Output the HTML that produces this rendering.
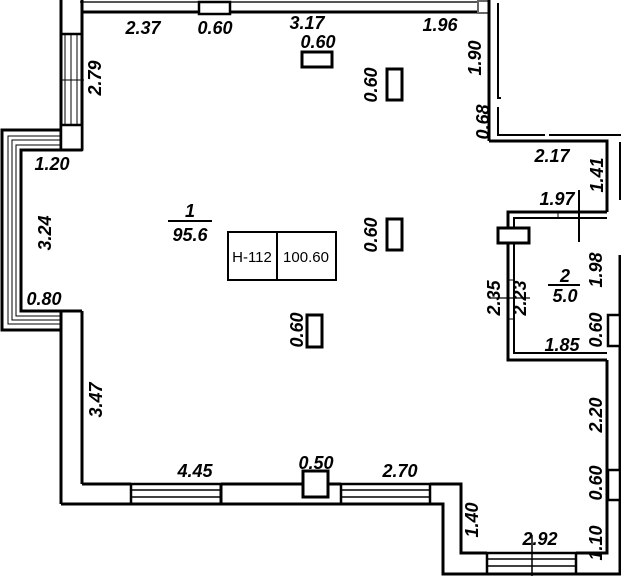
<!DOCTYPE html>
<html><head><meta charset="utf-8"><style>
html,body{margin:0;padding:0;background:#fff}
svg{display:block}
text{font-family:"Liberation Sans",sans-serif;font-style:italic;font-weight:bold;font-size:18px;fill:#000}
.t{font-style:normal;font-weight:normal;font-size:15px}
</style></head><body>
<svg width="621" height="576" viewBox="0 0 621 576" xmlns="http://www.w3.org/2000/svg">
<g fill="none" stroke="#000">
<line x1="80" y1="2" x2="490" y2="2" stroke-width="2" stroke="#555"/>
<line x1="82" y1="12" x2="490" y2="12" stroke-width="3"/>
<rect x="199" y="2" width="31" height="12" fill="#fff" stroke-width="2.5"/>
<rect x="478" y="1" width="11" height="12" fill="#fff" stroke-width="2" stroke="#666"/>
<line x1="61" y1="0" x2="61" y2="150" stroke-width="3"/>
<line x1="82" y1="0" x2="82" y2="150" stroke-width="3"/>
<line x1="61" y1="34" x2="82" y2="34" stroke-width="2.5"/>
<line x1="65" y1="34" x2="65" y2="125" stroke-width="1"/>
<line x1="71" y1="34" x2="71" y2="125" stroke-width="1"/>
<line x1="77" y1="34" x2="77" y2="125" stroke-width="1"/>
<line x1="60" y1="80" x2="84" y2="80" stroke-width="1"/>
<rect x="61" y="125" width="21" height="25" fill="#fff" stroke-width="2.5"/>
<path d="M61 130 H2 V330 H61" stroke-width="3"/>
<path d="M61 136 H8 V324 H61" stroke-width="1"/>
<path d="M61 140 H12 V320 H61" stroke-width="1"/>
<path d="M61 145 H16 V316 H61" stroke-width="1"/>
<path d="M82 150 H21 V311 H82" stroke-width="3"/>
<line x1="61" y1="311" x2="61" y2="504" stroke-width="3"/>
<line x1="82" y1="311" x2="82" y2="484" stroke-width="3"/>
<path d="M82 484 H131" stroke-width="3"/>
<path d="M61 504 H443 V574 H621" stroke-width="3"/>
<path d="M221 484 H303 M328 484 H341" stroke-width="3"/>
<path d="M430 484 H461 V553 H487" stroke-width="3"/>
<path d="M576 553 H607 V360" stroke-width="3"/>
<line x1="620" y1="255" x2="620" y2="574" stroke-width="3"/>
<rect x="131" y="484" width="90" height="20" stroke-width="2.5"/>
<line x1="131" y1="490" x2="221" y2="490" stroke-width="1.5"/>
<line x1="131" y1="497" x2="221" y2="497" stroke-width="1.5"/>
<line x1="221" y1="484" x2="221" y2="504" stroke-width="3"/>
<rect x="341" y="484" width="89" height="20" stroke-width="2.5"/>
<line x1="341" y1="490" x2="430" y2="490" stroke-width="1.5"/>
<line x1="341" y1="497" x2="430" y2="497" stroke-width="1.5"/>
<rect x="303" y="471" width="25" height="26" fill="#fff" stroke-width="3"/>
<rect x="487" y="553" width="89" height="21" stroke-width="2.5"/>
<line x1="487" y1="559" x2="576" y2="559" stroke-width="1.5"/>
<line x1="487" y1="566" x2="576" y2="566" stroke-width="1.5"/>
<line x1="532" y1="535" x2="532" y2="576" stroke-width="1.5"/>
<line x1="489" y1="0" x2="489" y2="141" stroke-width="3"/>
<path d="M498 3 V98 H501" stroke-width="2"/>
<path d="M498 107 V135 H545 M549 135 H621" stroke-width="2"/>
<path d="M489 141 H607 V212" stroke-width="3"/>
<line x1="620" y1="142" x2="620" y2="200" stroke-width="2"/>
<path d="M607 212 H508 V360 H607" stroke-width="3"/>
<path d="M607 218 H514 V353 H607" stroke-width="2"/>
<line x1="508" y1="280" x2="514" y2="280" stroke-width="1"/>
<line x1="508" y1="319" x2="514" y2="319" stroke-width="1"/>
<line x1="490" y1="298" x2="530" y2="298" stroke-width="1.2"/>
<line x1="558" y1="212" x2="558" y2="218" stroke-width="1"/>
<rect x="498" y="228" width="31" height="15" fill="#fff" stroke-width="3"/>
<line x1="579" y1="190" x2="579" y2="242" stroke-width="2"/>
<rect x="608" y="315" width="12" height="31" fill="#fff" stroke-width="2.5"/>
<rect x="608" y="470" width="12" height="30" fill="#fff" stroke-width="2.5"/>
<rect x="302" y="52" width="30" height="15" stroke-width="3"/>
<rect x="387" y="69" width="15" height="31" stroke-width="3"/>
<rect x="387" y="219" width="15" height="31" stroke-width="3"/>
<rect x="307" y="315" width="15" height="32" stroke-width="3"/>
<rect x="228" y="232" width="108" height="48" stroke-width="2"/>
<line x1="277" y1="232" x2="277" y2="280" stroke-width="2"/>
<line x1="168" y1="221" x2="212" y2="221" stroke-width="2"/>
<line x1="548" y1="285" x2="580" y2="285" stroke-width="2"/>
</g>
<text class="t" x="252" y="262" text-anchor="middle">Н-112</text>
<text class="t" x="306" y="262" text-anchor="middle">100.60</text>
<g text-anchor="middle">
<text x="190" y="217">1</text>
<text x="190" y="241">95.6</text>
<text x="565" y="282">2</text>
<text x="565" y="302">5.0</text>
<text x="143" y="34">2.37</text>
<text x="215" y="34">0.60</text>
<text x="307" y="29">3.17</text>
<text x="318" y="48">0.60</text>
<text x="440" y="31">1.96</text>
<text x="52" y="170">1.20</text>
<text x="44" y="305">0.80</text>
<text x="195" y="477">4.45</text>
<text x="316" y="469">0.50</text>
<text x="400" y="477">2.70</text>
<text x="540" y="545">2.92</text>
<text x="562" y="351">1.85</text>
<text x="557" y="205">1.97</text>
<text x="552" y="162">2.17</text>
<text transform="translate(101,78) rotate(-90)">2.79</text>
<text transform="translate(51,233) rotate(-90)">3.24</text>
<text transform="translate(102,400) rotate(-90)">3.47</text>
<text transform="translate(478,520) rotate(-90)">1.40</text>
<text transform="translate(602,543) rotate(-90)">1.10</text>
<text transform="translate(602,483) rotate(-90)">0.60</text>
<text transform="translate(602,415) rotate(-90)">2.20</text>
<text transform="translate(602,330) rotate(-90)">0.60</text>
<text transform="translate(602,270) rotate(-90)">1.98</text>
<text transform="translate(526,298) rotate(-90)">2.23</text>
<text transform="translate(500,298) rotate(-90)">2.35</text>
<text transform="translate(603,175) rotate(-90)">1.41</text>
<text transform="translate(489,122) rotate(-90)">0.68</text>
<text transform="translate(481,58) rotate(-90)">1.90</text>
<text transform="translate(377,85) rotate(-90)">0.60</text>
<text transform="translate(377,235) rotate(-90)">0.60</text>
<text transform="translate(303,330) rotate(-90)">0.60</text>
</g>
</svg>
</body></html>
